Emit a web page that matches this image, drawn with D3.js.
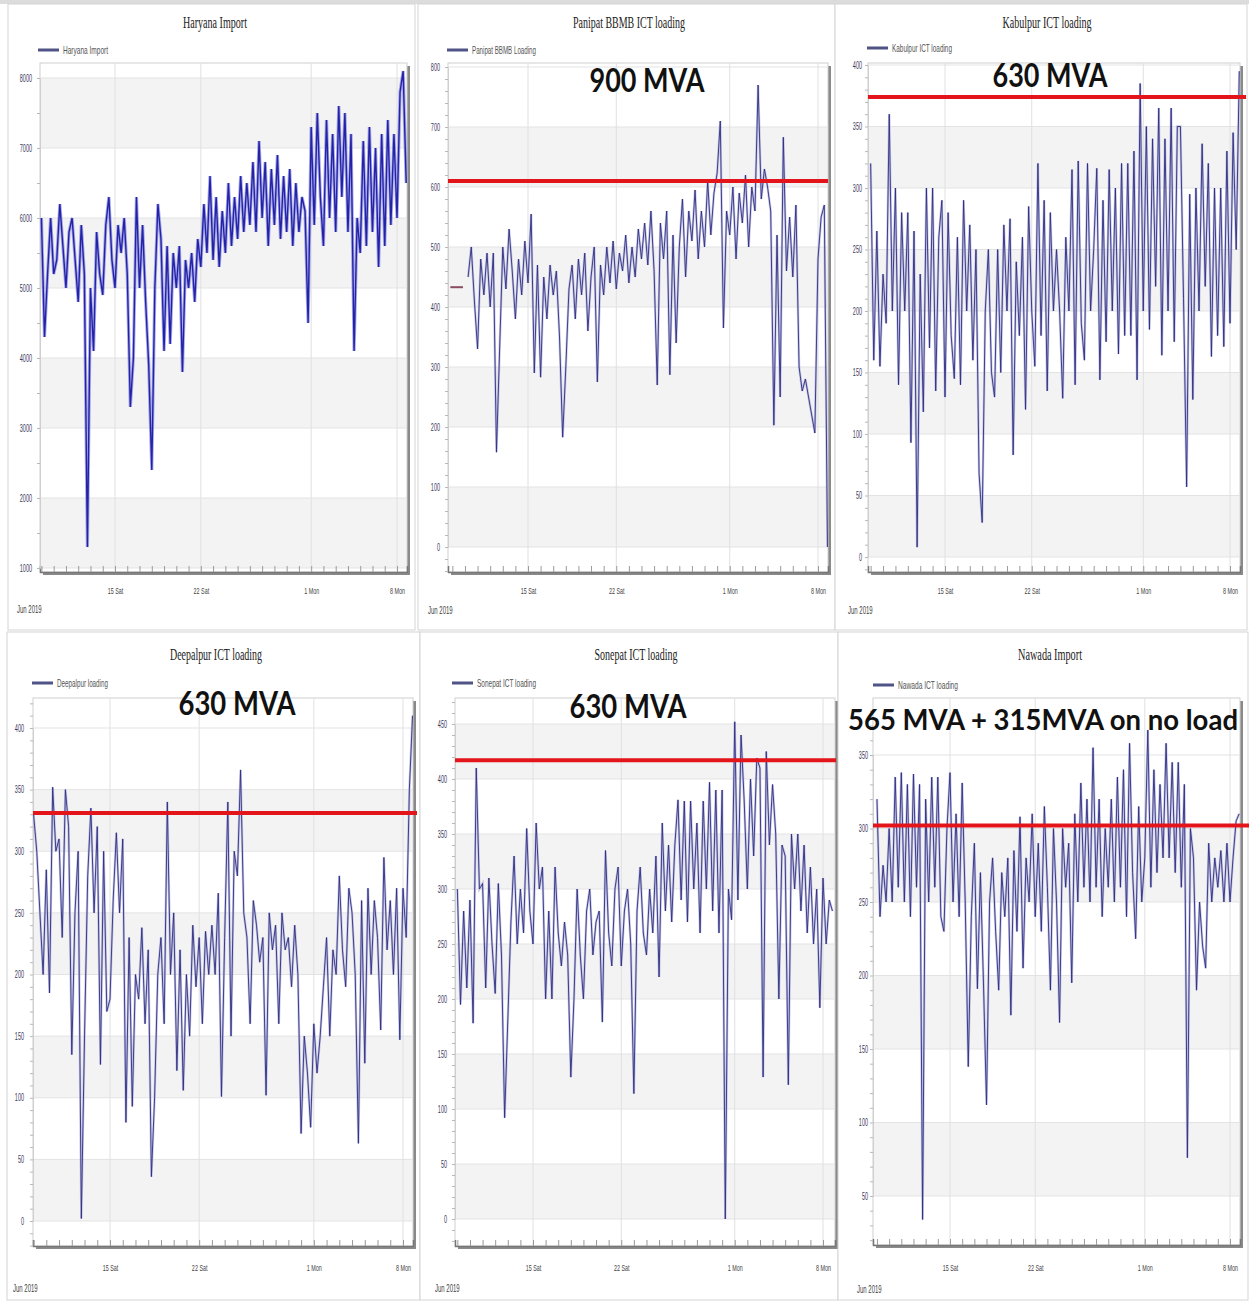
<!DOCTYPE html>
<html>
<head>
<meta charset="utf-8">
<script src="https://cdn.jsdelivr.net/npm/d3@7"></script>
<style>
  body { margin: 0; background: #fff; }
  svg { display: block; }
</style>
</head>
<body>
<svg id="chart" width="1249" height="1301"></svg>
<script>
// Readings every 6 hours from 9 Jun 2019 00:00, one row per day (00, 06, 12, 18 h)
const START = new Date(2019, 5, 9);
const STEP_HOURS = 6;

const haryanaImport = [
  6000, 4300, 5200, 6000,
  5200, 5400, 6200, 5600,
  5000, 5800, 6000, 5400,
  4800, 5900, 5200, 1300,
  5000, 4100, 5800, 5200,
  4900, 5900, 6300, 5400,
  5000, 5900, 5500, 6000,
  5200, 3300, 4000, 6300,
  5000, 5900, 4800, 3900,
  2400, 5000, 6200, 5700,
  4100, 5600, 4200, 5500,
  5000, 5600, 3800, 5400,
  5000, 5500, 4800, 5700,
  5300, 6200, 5500, 6600,
  5400, 6300, 5300, 6100,
  5500, 6500, 5600, 6300,
  5700, 6600, 5800, 6500,
  5900, 6800, 5800, 7100,
  6000, 6800, 5600, 6700,
  5900, 6900, 5700, 6600,
  5800, 6700, 5600, 6500,
  5800, 6300, 6100, 4500,
  7300, 5900, 7500, 6300,
  5600, 7400, 6000, 7200,
  5800, 7600, 6300, 7500,
  5800, 7200, 4100, 6000,
  5500, 7100, 5600, 7300,
  5800, 7000, 5300, 7200,
  5600, 7400, 5900, 7200,
  6000, 7800, 8100, 6500
];

const panipatLoading = [
  null, null, null, null,
  null, 450, 500, 410,
  330, 480, 420, 490,
  400, 490, 158, 330,
  500, 430, 530, 460,
  380, 480, 420, 510,
  440, 555, 290, 470,
  283, 450, 380, 470,
  420, 460, 350, 183,
  300, 430, 470, 380,
  480, 420, 490, 360,
  450, 500, 275, 470,
  420, 500, 440, 510,
  430, 490, 460, 520,
  440, 500, 450, 530,
  480, 540, 470, 560,
  460, 270, 540, 480,
  560, 287, 520, 340,
  500, 580, 450, 560,
  510, 595, 480, 560,
  500, 610, 520, 590,
  623, 710, 365, 560,
  520, 600, 480, 590,
  540, 620, 500, 600,
  560, 770, 580, 630,
  600, 560, 203, 520,
  250, 683, 460, 550,
  450, 570, 300, 260,
  280, 250, 220, 190,
  480, 550, 570, 0
];
// short earlier trace on the left edge of the Panipat panel
const panipatEarlier = [433, 433, 433, 433, 433];

const kabulpurLoading = [
  320, 160, 265, 155,
  230, 190, 360, 200,
  300, 140, 280, 200,
  280, 93, 265, 8,
  230, 118, 300, 170,
  300, 135, 260, 290,
  130, 280, 180, 145,
  260, 140, 290, 200,
  270, 160, 250, 68,
  28, 200, 250, 150,
  130, 250, 150, 270,
  200, 275, 83, 240,
  180, 260, 120, 285,
  200, 155, 320, 180,
  290, 135, 280, 200,
  250, 200, 129, 260,
  200, 315, 140, 322,
  190, 160, 320, 200,
  250, 316, 144, 290,
  175, 315, 200, 300,
  165, 320, 180, 320,
  180, 330, 144, 385,
  200, 350, 185, 340,
  220, 365, 164, 340,
  200, 365, 175, 350,
  350, 210, 57, 295,
  128, 300, 200, 336,
  220, 320, 163, 300,
  180, 300, 171, 330,
  190, 345, 250, 395
];

const deepalpurLoading = [
  330, 300, 250, 200,
  285, 185, 352, 300,
  310, 230, 350, 320,
  135, 250, 300, 2,
  150, 280, 335, 250,
  320, 127, 300, 170,
  180, 260, 315, 250,
  310, 80, 230, 93,
  200, 180, 238, 160,
  220, 36, 100, 200,
  230, 160, 340, 200,
  250, 122, 220, 106,
  200, 150, 240, 190,
  230, 160, 235, 200,
  240, 200, 266, 101,
  230, 340, 150, 300,
  280, 366, 250, 230,
  160, 260, 240, 210,
  230, 102, 250, 220,
  240, 160, 250, 220,
  230, 190, 240, 200,
  71, 150, 120, 76,
  160, 120, 150, 190,
  230, 150, 220, 200,
  280, 220, 190, 270,
  250, 200, 63, 260,
  128, 270, 200, 260,
  230, 155, 295, 220,
  260, 200, 270, 147,
  270, 230, 350, 410
];

const sonepatLoading = [
  300, 195, 280, 210,
  290, 178, 410, 300,
  305, 210, 310, 250,
  205, 305, 240, 92,
  180, 270, 330, 250,
  300, 260, 355, 280,
  250, 360, 300, 320,
  200, 280, 200, 320,
  260, 230, 270, 240,
  129, 200, 300, 240,
  200, 280, 300, 240,
  270, 280, 179, 335,
  260, 230, 300, 320,
  230, 280, 300, 250,
  114, 280, 320, 260,
  240, 300, 260, 330,
  220, 360, 280, 340,
  270, 340, 381, 290,
  380, 270, 380, 300,
  360, 260, 380, 300,
  397, 280, 390, 260,
  390, 0, 300, 272,
  452, 290, 440, 380,
  300, 400, 330, 419,
  410, 129, 425, 340,
  395, 350, 200, 340,
  330, 122, 350, 300,
  350, 280, 340, 260,
  320, 250, 300, 192,
  310, 250, 290, 280
];

const nawadaLoading = [
  320, 240, 275, 250,
  300, 250, 335, 260,
  338, 250, 330, 240,
  337, 260, 330, 34,
  320, 250, 335, 260,
  335, 240, 230, 300,
  338, 250, 310, 240,
  331, 250, 138, 240,
  290, 191, 270, 195,
  112, 250, 280, 230,
  190, 270, 240, 280,
  173, 285, 230, 308,
  205, 280, 250, 310,
  240, 290, 230, 315,
  260, 190, 300, 250,
  168, 300, 260, 290,
  195, 310, 250, 331,
  260, 320, 250, 355,
  260, 320, 240, 300,
  260, 320, 250, 335,
  260, 340, 240, 358,
  270, 225, 315, 250,
  280, 367, 260, 340,
  270, 330, 280, 358,
  280, 345, 270, 345,
  260, 330, 76, 300,
  280, 190, 250, 220,
  205, 290, 250, 280,
  260, 285, 250, 290,
  250, 280, 305, 310
];

const chartTitles = ["Haryana Import", "Panipat BBMB ICT loading", "Kabulpur ICT loading",
                     "Deepalpur ICT loading", "Sonepat ICT loading", "Nawada Import"];
const legendNames = ["Haryana Import", "Panipat BBMB Loading", "Kabulpur ICT loading",
                     "Deepalpur loading", "Sonepat ICT loading", "Nawada ICT loading"];
const yTickValues = [
  [1000, 2000, 3000, 4000, 5000, 6000, 7000, 8000],
  [0, 100, 200, 300, 400, 500, 600, 700, 800],
  [0, 50, 100, 150, 200, 250, 300, 350, 400],
  [0, 50, 100, 150, 200, 250, 300, 350, 400],
  [0, 50, 100, 150, 200, 250, 300, 350, 400, 450],
  [50, 100, 150, 200, 250, 300, 350]
];
const xTickDates = [new Date(2019, 5, 15), new Date(2019, 5, 22), new Date(2019, 6, 1), new Date(2019, 6, 8)];
const xTickLabels = ["15 Sat", "22 Sat", "1 Mon", "8 Mon"];
const ratingLimits = [null, 610, 374, 331, 417, 302];
const ratingLabels = [null, "900 MVA", "630 MVA", "630 MVA", "630 MVA", "565 MVA + 315MVA on no load"];

const seriesList = [haryanaImport, panipatLoading, kabulpurLoading, deepalpurLoading, sonepatLoading, nawadaLoading];

// pixel layout of the six screenshots
const layout = [
  {box: [8, 4, 415, 630], x0: 40, x1: 407, y0: 63, y1: 572, xa: 115, xb: 397, ya: 568, yb: 78,
   yLab: 32, xLabY: 594, jun: [17, 613], title: [215, 28, 64], legend: [38, 50, 45], big: null, redEnd: null, minorY: 500},
  {box: [418, 4, 835, 630], x0: 448, x1: 828, y0: 63, y1: 572, xa: 528, xb: 818, ya: 547, yb: 67,
   yLab: 440, xLabY: 594, jun: [428, 614], title: [629, 28, 112], legend: [447, 50, 64], big: [647, 92, 115, 33], redEnd: 828, minorY: 20},
  {box: [835, 4, 1247, 630], x0: 868, x1: 1240, y0: 63, y1: 572, xa: 945, xb: 1230, ya: 557, yb: 65,
   yLab: 862, xLabY: 594, jun: [848, 614], title: [1047, 28, 89], legend: [867, 48, 60], big: [1050, 87, 115, 33], redEnd: 1246, minorY: 10},
  {box: [7, 632, 420, 1300], x0: 33, x1: 413, y0: 698, y1: 1246, xa: 110, xb: 403, ya: 1221, yb: 728,
   yLab: 24, xLabY: 1271, jun: [13, 1292], title: [216, 660, 92], legend: [32, 683, 51], big: [237, 715, 117, 33], redEnd: 417, minorY: 10},
  {box: [420, 632, 838, 1300], x0: 455, x1: 835, y0: 698, y1: 1246, xa: 533, xb: 823, ya: 1219, yb: 724,
   yLab: 447, xLabY: 1271, jun: [435, 1292], title: [636, 660, 83], legend: [452, 683, 59], big: [628, 718, 117, 33], redEnd: 836, minorY: 10},
  {box: [838, 632, 1248, 1300], x0: 873, x1: 1240, y0: 698, y1: 1245, xa: 950, xb: 1230, ya: 1196, yb: 755,
   yLab: 868, xLabY: 1271, jun: [857, 1293], title: [1050, 660, 64], legend: [873, 685, 60], big: [1043, 730, 390, 29], redEnd: 1249, minorY: 10}
];

const timeAt = k => d3.timeHour.offset(START, k * STEP_HOURS);

function squeeze (sel, width) {
  sel.each(function () {
    const len = this.getComputedTextLength();
    const w = typeof width === "function" ? width(len) : Math.min(width, len);
    this.setAttribute("textLength", w);
    this.setAttribute("lengthAdjust", "spacingAndGlyphs");
  });
}

const svg = d3.select("#chart");
svg.append("rect").attr("x", 0).attr("y", 0).attr("width", 1249).attr("height", 4).attr("fill", "#dcdcdc");

layout.forEach((L, idx) => {
  const g = svg.append("g");
  const values = seriesList[idx];
  const yt = yTickValues[idx];

  g.append("rect")
    .attr("x", L.box[0]).attr("y", L.box[1])
    .attr("width", L.box[2] - L.box[0]).attr("height", L.box[3] - L.box[1])
    .attr("fill", "#fff").attr("stroke", "#d4d4d4");

  // x: pin the two known tick dates, then widen to the plot edges
  const x = d3.scaleTime().domain([xTickDates[0], xTickDates[3]]).range([L.xa, L.xb]);
  x.domain([x.invert(L.x0), x.invert(L.x1)]).range([L.x0, L.x1]);
  const y = d3.scaleLinear().domain([yt[0], yt[yt.length - 1]]).range([L.ya, L.yb]);

  // plot box with drop shadow
  g.append("rect")
    .attr("x", L.x0 + 3).attr("y", L.y0 + 3)
    .attr("width", L.x1 - L.x0).attr("height", L.y1 - L.y0)
    .attr("fill", "#8a8a8a");
  g.append("rect")
    .attr("x", L.x0).attr("y", L.y0)
    .attr("width", L.x1 - L.x0).attr("height", L.y1 - L.y0)
    .attr("fill", "#fff").attr("stroke", "#cfcfcf");

  // alternating bands
  for (let k = 0; k + 1 < yt.length; k += 2) {
    g.append("rect")
      .attr("x", L.x0 + 1).attr("width", L.x1 - L.x0 - 2)
      .attr("y", y(yt[k + 1])).attr("height", y(yt[k]) - y(yt[k + 1]))
      .attr("fill", "#f3f3f3");
  }

  // grid
  g.append("g").selectAll("line").data(yt).join("line")
    .attr("x1", L.x0).attr("x2", L.x1)
    .attr("y1", d => y(d)).attr("y2", d => y(d))
    .attr("stroke", "#e3e3e3");
  g.append("g").selectAll("line").data(xTickDates).join("line")
    .attr("x1", d => x(d)).attr("x2", d => x(d))
    .attr("y1", L.y0).attr("y2", L.y1)
    .attr("stroke", "#e0e0e0");

  // daily ticks along the bottom
  const dayAxis = g.append("g")
    .attr("transform", `translate(0,${L.y1})`)
    .call(d3.axisBottom(x).ticks(d3.timeDay.every(1)).tickSize(-6).tickFormat(""));
  dayAxis.select(".domain").attr("stroke", "#777").attr("stroke-width", 1.5);
  dayAxis.selectAll(".tick line").attr("stroke", "#9a9a9a");

  // minor ticks along the left
  const lo = y.invert(L.y1), hi = y.invert(L.y0);
  const minor = d3.range(Math.ceil(lo / L.minorY) * L.minorY, hi, L.minorY);
  const minorAxis = g.append("g")
    .attr("transform", `translate(${L.x0},0)`)
    .call(d3.axisLeft(y).tickValues(minor).tickSize(3).tickFormat(""));
  minorAxis.select(".domain").attr("stroke", "#cfcfcf");
  minorAxis.selectAll(".tick line").attr("stroke", "#b8b8b8");

  // y labels
  const yAxis = g.append("g")
    .attr("transform", `translate(${L.yLab},0)`)
    .call(d3.axisLeft(y).tickValues(yt).tickSize(0).tickPadding(0).tickFormat(d3.format("d")));
  yAxis.select(".domain").remove();
  yAxis.selectAll("text")
    .attr("font-family", "Liberation Sans, Arial, sans-serif")
    .attr("font-size", 10).attr("fill", "#3c3c5a")
    .call(squeeze, len => len * 0.55);

  // x labels
  const xAxis = g.append("g")
    .attr("transform", `translate(0,${L.xLabY})`)
    .call(d3.axisBottom(x).tickValues(xTickDates).tickFormat((d, i) => xTickLabels[i]).tickSize(0));
  xAxis.select(".domain").remove();
  xAxis.selectAll("text")
    .attr("y", 0).attr("dy", 0)
    .attr("font-family", "Liberation Sans, Arial, sans-serif")
    .attr("font-size", 9).attr("fill", "#444")
    .call(squeeze, len => len * 0.6);

  g.append("text")
    .attr("x", L.jun[0]).attr("y", L.jun[1])
    .attr("font-family", "Liberation Sans, Arial, sans-serif")
    .attr("font-size", 10).attr("fill", "#444")
    .text("Jun 2019")
    .call(squeeze, len => len * 0.6);

  // data line
  const clipId = `clip${idx}`;
  g.append("clipPath").attr("id", clipId)
    .append("rect").attr("x", L.x0).attr("y", L.y0)
    .attr("width", L.x1 - L.x0).attr("height", L.y1 - L.y0);

  const line = d3.line()
    .defined(d => d != null)
    .x((d, k) => x(timeAt(k)))
    .y(d => y(d));

  const plot = g.append("g").attr("clip-path", `url(#${clipId})`);
  const heavy = idx === 0;
  plot.append("path").datum(values)
    .attr("d", line).attr("fill", "none")
    .attr("stroke", heavy ? "#7d7dde" : "#aeaed8")
    .attr("stroke-width", heavy ? 3.2 : 2.4)
    .attr("stroke-opacity", 0.65);
  plot.append("path").datum(values)
    .attr("d", line).attr("fill", "none")
    .attr("stroke", heavy ? "#2323a8" : "#2e2e82")
    .attr("stroke-width", heavy ? 1.4 : 0.9);

  if (idx === 1) {
    g.append("path").datum(panipatEarlier)
      .attr("d", d3.line().x((d, k) => x(timeAt(k)) - 2).y(d => y(d)))
      .attr("fill", "none").attr("stroke", "#8a4c5e").attr("stroke-width", 2);
  }

  // rating line + label
  if (ratingLimits[idx] != null) {
    g.append("line")
      .attr("x1", L.x0).attr("x2", L.redEnd)
      .attr("y1", y(ratingLimits[idx])).attr("y2", y(ratingLimits[idx]))
      .attr("stroke", "#e3151a").attr("stroke-width", 4);
    g.append("text")
      .attr("x", L.big[0]).attr("y", L.big[1])
      .attr("text-anchor", "middle")
      .attr("font-family", "Lato, 'Open Sans', sans-serif")
      .attr("font-weight", 700).attr("font-size", L.big[3]).attr("fill", "#111")
      .text(ratingLabels[idx])
      .call(squeeze, L.big[2]);
  }

  // title
  g.append("text")
    .attr("x", L.title[0]).attr("y", L.title[1])
    .attr("text-anchor", "middle")
    .attr("font-family", "Liberation Serif, 'Times New Roman', serif")
    .attr("font-size", 16).attr("fill", "#222")
    .text(chartTitles[idx])
    .call(squeeze, L.title[2]);

  // legend
  g.append("line")
    .attr("x1", L.legend[0]).attr("x2", L.legend[0] + 21)
    .attr("y1", L.legend[1]).attr("y2", L.legend[1])
    .attr("stroke", "#4f5385").attr("stroke-width", 3);
  g.append("text")
    .attr("x", L.legend[0] + 25).attr("y", L.legend[1] + 4)
    .attr("font-family", "Liberation Sans, Arial, sans-serif")
    .attr("font-size", 11).attr("fill", "#555")
    .text(legendNames[idx])
    .call(squeeze, L.legend[2]);
});
</script>
</body>
</html>
